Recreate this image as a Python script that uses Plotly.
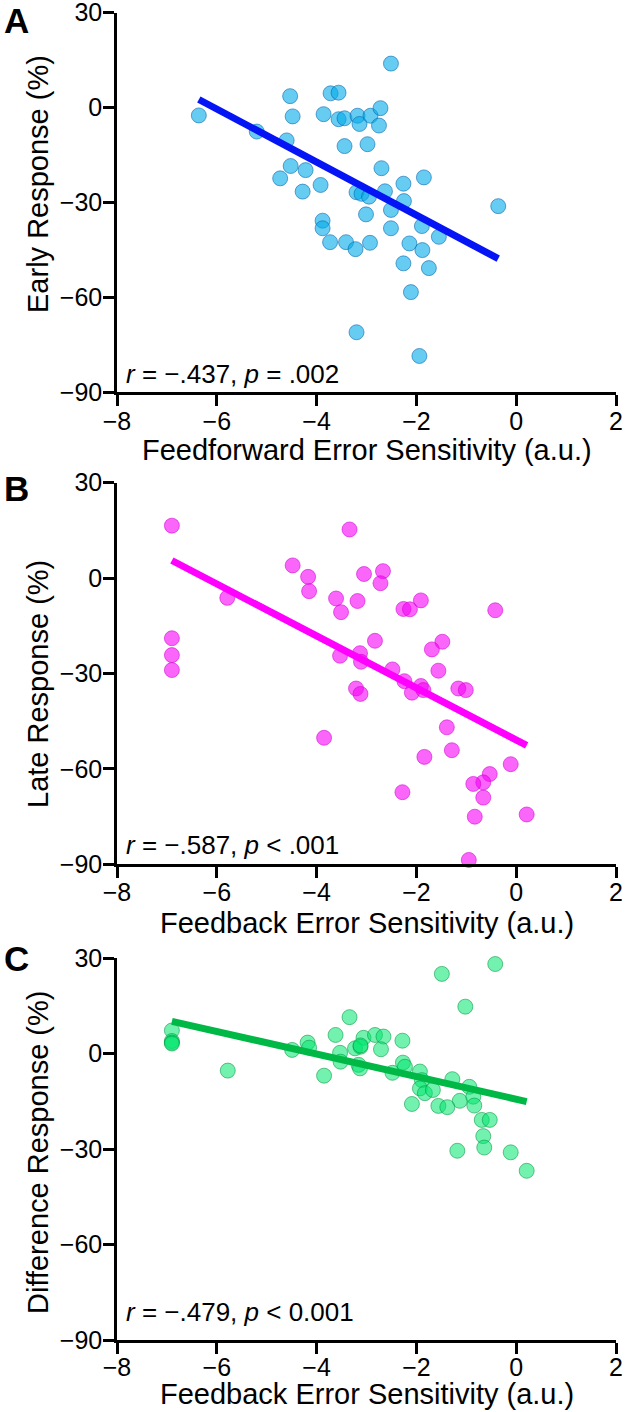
import numpy as np
import plotly.graph_objects as go

# ---------------- data ----------------
a_x = [-6.36, -2.51, -4.53, -3.72, -3.56, -4.48, -3.86, -3.56, -3.44, -3.18, -3.14, -2.92, -2.72, -2.75,
       -5.20, -4.60, -3.44, -2.98, -4.52, -4.22, -4.73, -2.70, -3.92, -4.28, -2.26, -1.85, -3.20, -3.10,
       -2.95, -2.63, -2.25, -0.36, -2.51, -3.01, -3.88, -3.88, -2.51, -1.89, -1.55, -3.73, -3.41, -3.22,
       -2.93, -2.14, -1.88, -2.26, -1.75, -2.11, -3.20, -1.94]
a_y = [-2.5, 13.9, 3.6, 4.5, 4.7, -2.8, -2.1, -3.7, -3.4, -2.6, -5.2, -2.6, -0.2, -5.7,
       -7.6, -10.4, -12.2, -11.6, -18.5, -19.8, -22.4, -19.2, -24.5, -26.6, -24.1, -22.1, -26.8, -27.3,
       -28.2, -26.5, -29.6, -31.2, -32.4, -33.8, -35.8, -38.2, -38.2, -37.5, -40.9, -42.6, -42.6, -44.8,
       -42.8, -43.0, -45.1, -49.3, -50.8, -58.4, -71.1, -78.6]

b_x = [-6.90, -3.34, -4.48, -4.17, -4.15, -3.05, -2.67, -2.72, -5.79, -3.61, -3.18, -3.51, -2.26, -2.13,
       -1.91, -0.42, -6.90, -6.90, -6.90, -2.83, -1.48, -1.69, -3.53, -3.13, -3.11, -2.48, -1.56, -2.24,
       -1.91, -2.09, -1.86, -3.21, -3.12, -1.16, -1.01, -3.85, -1.39, -1.29, -1.84, -0.11, -0.53, -0.66,
       -0.86, -0.66, -2.28, -0.83, 0.21, -0.95]
b_y = [16.5, 15.3, 4.0, 0.4, -4.1, 1.3, 2.2, -1.6, -6.2, -6.4, -7.2, -10.7, -9.7, -9.8,
       -7.0, -10.1, -18.9, -24.2, -28.9, -19.7, -20.0, -22.4, -24.4, -23.6, -26.3, -28.7, -29.1, -32.4,
       -33.9, -36.0, -35.2, -34.7, -36.4, -34.7, -35.2, -50.2, -46.9, -54.1, -56.2, -58.5, -61.6, -64.2,
       -64.7, -69.0, -67.3, -75.0, -74.3, -88.6]

c_x = [-0.42, -1.49, -1.02, -3.34, -6.90, -6.90, -6.90, -6.90, -5.78, -4.49, -4.18, -4.15, -3.85, -3.62,
       -3.53, -3.52, -3.06, -3.23, -3.12, -3.12, -2.83, -2.66, -2.71, -2.28, -3.16, -3.13, -2.48, -2.27,
       -2.23, -1.93, -1.89, -1.28, -0.94, -1.93, -1.83, -1.67, -1.13, -0.86, -2.09, -1.56, -1.38, -0.84,
       -0.69, -0.53, -0.66, -0.64, -1.18, -0.11, 0.21]
c_y = [28.2, 25.1, 14.8, 11.5, 7.3, 4.0, 3.5, 3.2, -5.3, 1.2, 3.5, 1.9, -6.9, 5.9,
       0.3, -2.5, 5.0, 1.7, 2.2, 2.6, 5.9, 5.4, 1.4, 4.1, -3.5, -4.6, -6.0, -2.8,
       -4.1, -5.6, -8.3, -8.0, -10.4, -10.9, -12.4, -11.4, -14.8, -13.5, -15.8, -16.4, -16.8, -16.3,
       -20.8, -20.8, -25.9, -29.5, -30.5, -31.0, -36.8]

x_ticks = [-8, -6, -4, -2, 0, 2]
y_ticks = [-90, -60, -30, 0, 30]
x_titles = ["Feedforward Error Sensitivity (a.u.)", "Feedback Error Sensitivity (a.u.)",
            "Feedback Error Sensitivity (a.u.)"]
y_titles = ["Early Response (%)", "Late Response (%)", "Difference Response (%)"]
stats = ["<i>r</i> = \u2212.437, <i>p</i> = .002", "<i>r</i> = \u2212.587, <i>p</i> < .001",
         "<i>r</i> = \u2212.479, <i>p</i> < 0.001"]
letters = ["A", "B", "C"]

# ---------------- styles ----------------
W, H = 642, 1412
FONT = "Liberation Sans, Arial, sans-serif"
x0_px, x1_px = 117, 616
panels_px = [(12.7, 392.0), (482.7, 864.4), (958.3, 1340.0)]
fills = ["rgba(0,170,232,0.6)", "rgba(245,0,245,0.6)", "rgba(0,230,110,0.55)"]
edges = ["rgba(0,95,170,0.55)", "rgba(210,0,210,0.55)", "rgba(0,150,60,0.55)"]
lines = ["rgb(5,20,245)", "rgb(255,0,255)", "rgb(0,184,70)"]
stat_y_px = [374, 845, 1312]
letter_y_px = [20, 488, 958]
ytitle_y_px = [184, 684, 1153]
xtitle_y_px = [450, 923, 1394]
xlabel_standoff = [-6, -7, -8]

datasets = [(a_x, a_y), (b_x, b_y), (c_x, c_y)]

fig = go.Figure()
layout = dict(width=W, height=H, autosize=False,
              margin=dict(l=0, r=0, t=0, b=0, pad=0, autoexpand=False),
              paper_bgcolor="white", plot_bgcolor="white", showlegend=False,
              font=dict(family=FONT, color="black"))
annotations = []

def py2paper(py):
    return 1 - py / H

for i, ((xs, ys), (top, bot)) in enumerate(zip(datasets, panels_px)):
    n = "" if i == 0 else str(i + 1)
    xa, ya = "x" + n, "y" + n
    slope, icpt = np.polyfit(xs, ys, 1)
    lx = np.array([min(xs), max(xs)])
    fig.add_trace(go.Scatter(x=xs, y=ys, mode="markers", xaxis=xa, yaxis=ya, cliponaxis=False,
                             marker=dict(size=15, color=fills[i], line=dict(color=edges[i], width=1))))
    fig.add_trace(go.Scatter(x=lx, y=slope * lx + icpt, mode="lines", xaxis=xa, yaxis=ya,
                             cliponaxis=False, line=dict(color=lines[i], width=7)))
    axstyle = dict(showline=True, linewidth=2.5, linecolor="black", ticks="outside", ticklen=11,
                   tickwidth=2.5, tickcolor="black", showgrid=False, zeroline=False, automargin=False,
                   ticklabeloverflow="allow",
                   tickfont=dict(size=25, family=FONT, color="black"))
    layout["xaxis" + n] = dict(domain=[x0_px / W, x1_px / W], range=[-8, 2], tickvals=x_ticks,
                               anchor=ya, ticklabelstandoff=xlabel_standoff[i], **axstyle)
    layout["yaxis" + n] = dict(domain=[py2paper(bot), py2paper(top)], range=[-90, 30], tickvals=y_ticks,
                               anchor=xa, ticklabelstandoff=-4, **axstyle)
    # axis titles
    annotations.append(dict(text=x_titles[i], xref="paper", yref="paper",
                            x=(x0_px + x1_px) / 2 / W, y=py2paper(xtitle_y_px[i]), xanchor="center",
                            yanchor="middle", showarrow=False, font=dict(size=29, family=FONT)))
    annotations.append(dict(text=y_titles[i], xref="paper", yref="paper", textangle=-90,
                            x=38 / W, y=py2paper(ytitle_y_px[i]), xanchor="center",
                            yanchor="middle", showarrow=False, font=dict(size=29, family=FONT)))
    annotations.append(dict(text=stats[i], xref="paper", yref="paper",
                            x=124 / W, y=py2paper(stat_y_px[i]), xanchor="left", yanchor="middle",
                            showarrow=False, font=dict(size=26, family=FONT)))
    annotations.append(dict(text="<b>" + letters[i] + "</b>", xref="paper", yref="paper",
                            x=16 / W, y=py2paper(letter_y_px[i]), xanchor="center", yanchor="middle",
                            showarrow=False, font=dict(size=35, family=FONT)))

layout["annotations"] = annotations
fig.update_layout(**layout)
fig.write_html("out.html", config={"displayModeBar": False},
               post_script="document.body.style.margin='0px';document.body.style.padding='0px';"
                           "document.documentElement.style.overflow='hidden';")
